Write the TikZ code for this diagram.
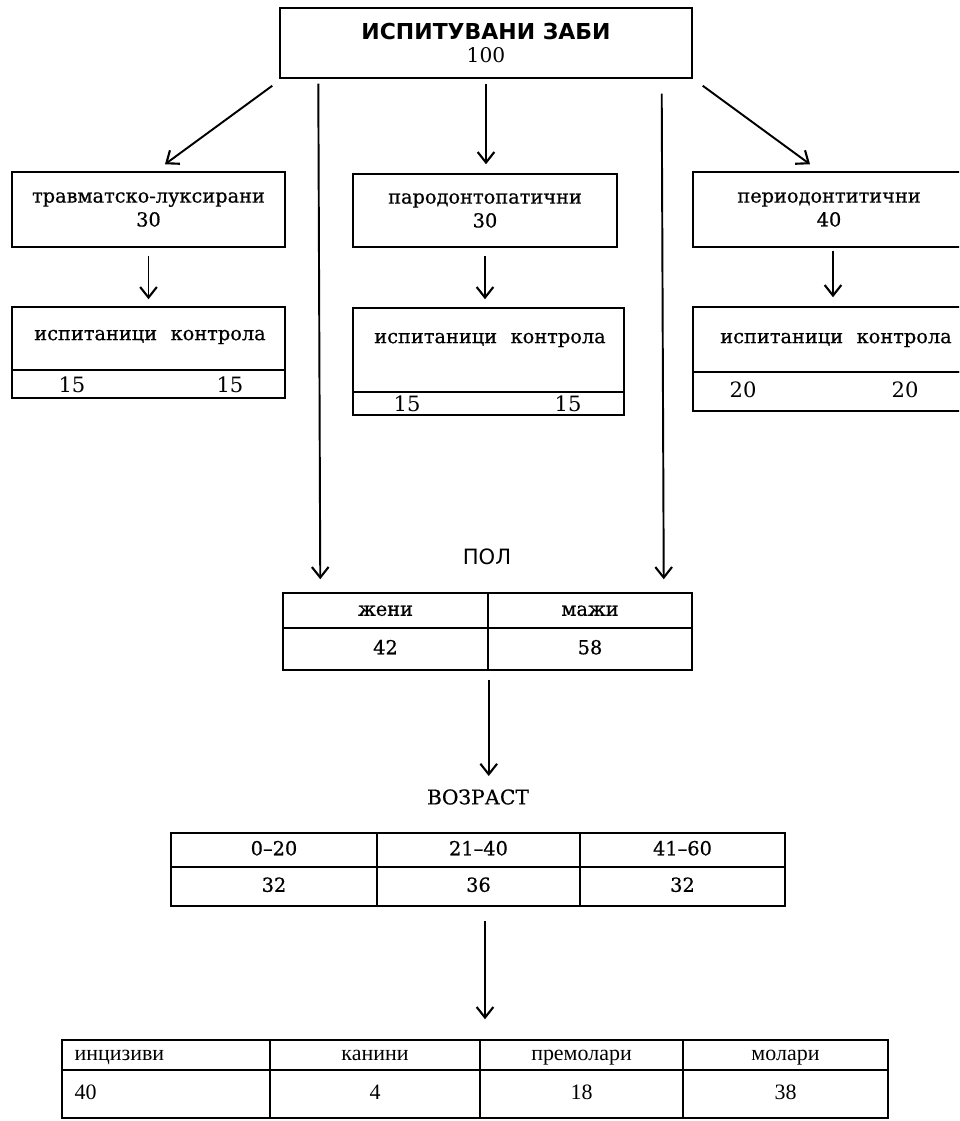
\documentclass[tikz,border=0pt]{standalone}
\usepackage{fontspec}
\setmainfont{DejaVu Serif}
\newfontfamily\medserif[FakeBold=0.6]{DejaVu Serif}
\newfontfamily\headsans{DejaVu Sans}
\newfontfamily\tabserif{Liberation Serif}
\usetikzlibrary{arrows.meta}
\tikzset{
  cell/.style={draw, line width=0.85pt, inner sep=0pt, align=center, font=\medserif\fontsize{11}{13.6}\selectfont},
  trow/.style={cell, text height=8pt, text depth=2pt},
  tcell/.style={trow, font=\tabserif\fontsize{12.5}{14}\selectfont},
  lbl/.style={inner sep=0pt, font=\medserif\fontsize{11}{13.6}\selectfont},
  num/.style={inner sep=0pt, font=\fontsize{12}{14}\selectfont},
  arr/.style={line width=1.1pt, -{Straight Barb[length=6pt,width=9.5pt,line width=1.2pt]}},
}
\begin{document}
\begin{tikzpicture}[x=0.02cm, y=-0.02cm]
\useasboundingbox (0,0) rectangle (959,1121);
\clip (0,0) rectangle (959,1121);

\node[cell, minimum width=8.24cm, minimum height=1.4cm, font=\fontsize{11.5}{13}\selectfont] (zabi) at (486,43) {{\headsans\bfseries\fontsize{12.5}{13}\selectfont ИСПИТУВАНИ ЗАБИ}\\100};

\node[cell, minimum width=5.46cm, minimum height=1.5cm] (trauma) at (148.5,209.5) {травматско-луксирани\\30};
\node[cell, minimum width=5.28cm, minimum height=1.46cm] (parod) at (485,210.5) {пародонтопатични\\30};
\node[cell, minimum width=5.44cm, minimum height=1.5cm] (perio) at (829,209.5) {периодонтитични\\40};

\node[cell, minimum width=5.46cm, minimum height=1.26cm] (isp1) at (148.5,338.5) {};
\node[cell, minimum width=5.46cm, minimum height=0.56cm] (br1) at (148.5,384) {};
\node[lbl] (isp1t) at (150,337) {испитаници\hspace{0.7em}контрола};
\node[num] (br1a) at (72,385) {15};
\node[num] (br1b) at (230,385) {15};

\node[cell, minimum width=5.42cm, minimum height=1.68cm] (isp2) at (488.5,350) {};
\node[cell, minimum width=5.42cm, minimum height=0.46cm] (br2) at (488.5,403.5) {};
\node[lbl] (isp2t) at (490,340) {испитаници\hspace{0.7em}контрола};
\node[num] (br2a) at (407,404) {15};
\node[num] (br2b) at (568,404) {15};

\node[cell, minimum width=5.44cm, minimum height=1.3cm] (isp3) at (829,339.5) {};
\node[cell, minimum width=5.44cm, minimum height=0.78cm] (br3) at (829,391.5) {};
\node[lbl] (isp3t) at (836,340) {испитаници\hspace{0.7em}контрола};
\node[num] (br3a) at (743,390) {20};
\node[num] (br3b) at (905,390) {20};

\node[inner sep=0pt, font=\headsans\fontsize{12}{13}\selectfont] (pol) at (487,557) {ПОЛ};
\node[trow, minimum width=4.1cm, minimum height=0.7cm] (zeni) at (385.5,610.5) {жени};
\node[trow, minimum width=4.08cm, minimum height=0.7cm] (mazi) at (590,610.5) {мажи};
\node[trow, minimum width=4.1cm, minimum height=0.84cm] (zeni42) at (385.5,649) {42};
\node[trow, minimum width=4.08cm, minimum height=0.84cm] (mazi58) at (590,649) {58};

\node[inner sep=0pt, font=\medserif\fontsize{11.5}{13}\selectfont] (voz) at (478,797) {ВОЗРАСТ};
\node[trow, minimum width=4.12cm, minimum height=0.68cm] (v1) at (274,850) {0–20};
\node[trow, minimum width=4.06cm, minimum height=0.68cm] (v2) at (478.5,850) {21–40};
\node[trow, minimum width=4.1cm, minimum height=0.68cm] (v3) at (682.5,850) {41–60};
\node[trow, minimum width=4.12cm, minimum height=0.78cm] (v1n) at (274,886.5) {32};
\node[trow, minimum width=4.06cm, minimum height=0.78cm] (v2n) at (478.5,886.5) {36};
\node[trow, minimum width=4.1cm, minimum height=0.78cm] (v3n) at (682.5,886.5) {32};

\node[tcell, minimum width=4.16cm, minimum height=0.6cm] (inc) at (166,1055) {};
\node[tcell, minimum width=4.2cm, minimum height=0.6cm] (kan) at (375,1055) {канини};
\node[tcell, minimum width=4.06cm, minimum height=0.6cm] (prem) at (581.5,1055) {премолари};
\node[tcell, minimum width=4.1cm, minimum height=0.6cm] (mol) at (785.5,1055) {молари};
\node[tcell, minimum width=4.16cm, minimum height=0.96cm] (inc40) at (166,1094) {};
\node[tcell, minimum width=4.2cm, minimum height=0.96cm] (kan4) at (375,1094) {4};
\node[tcell, minimum width=4.06cm, minimum height=0.96cm] (prem18) at (581.5,1094) {18};
\node[tcell, minimum width=4.1cm, minimum height=0.96cm] (mol38) at (785.5,1094) {38};
\node[anchor=west, inner sep=0pt, text height=8pt, text depth=2pt, font=\tabserif\fontsize{12.5}{14}\selectfont] (inct) at ([xshift=0.26cm]inc.west) {инцизиви};
\node[anchor=west, inner sep=0pt, text height=8pt, text depth=2pt, font=\tabserif\fontsize{12.5}{14}\selectfont] (inc40t) at ([xshift=0.26cm]inc40.west) {40};

\draw[arr] ([shift={(-0.14cm,-0.14cm)}]zabi.south west) -- ([shift={(0.33cm,0.14cm)}]trauma.north);
\draw[arr, shorten <=0.1cm, shorten >=0.18cm] (zabi.south) -- (zabi.south |- parod.north);
\draw[arr] ([shift={(0.2cm,-0.14cm)}]zabi.south east) -- ([shift={(-0.38cm,0.14cm)}]perio.north);
\draw[arr] ([shift={(0.78cm,-0.1cm)}]zabi.south west) -- ([shift={(0.76cm,0.26cm)}]zeni.north west);
\draw[arr] ([shift={(-0.62cm,-0.3cm)}]zabi.south east) -- ([shift={(-0.58cm,0.26cm)}]mazi.north east);

\draw[arr, shorten <=0.16cm, shorten >=0.14cm] (trauma.south) -- (isp1.north);
\draw[arr, shorten <=0.16cm, shorten >=0.16cm] (parod.south) -- (parod.south |- isp2.north);
\draw[arr, shorten <=0.06cm, shorten >=0.18cm] ([xshift=0.08cm]perio.south) -- ([xshift=0.08cm]perio.south |- isp3.north);

\draw[arr, shorten <=0.18cm, shorten >=0.26cm] (zeni42.south east) -- (zeni42.south east |- voz.north);
\draw[arr, shorten <=0.28cm, shorten >=0.4cm] ([xshift=0.13cm]v2n.south) -- ([xshift=0.13cm]v2n.south |- kan.north);

\end{tikzpicture}
\end{document}
